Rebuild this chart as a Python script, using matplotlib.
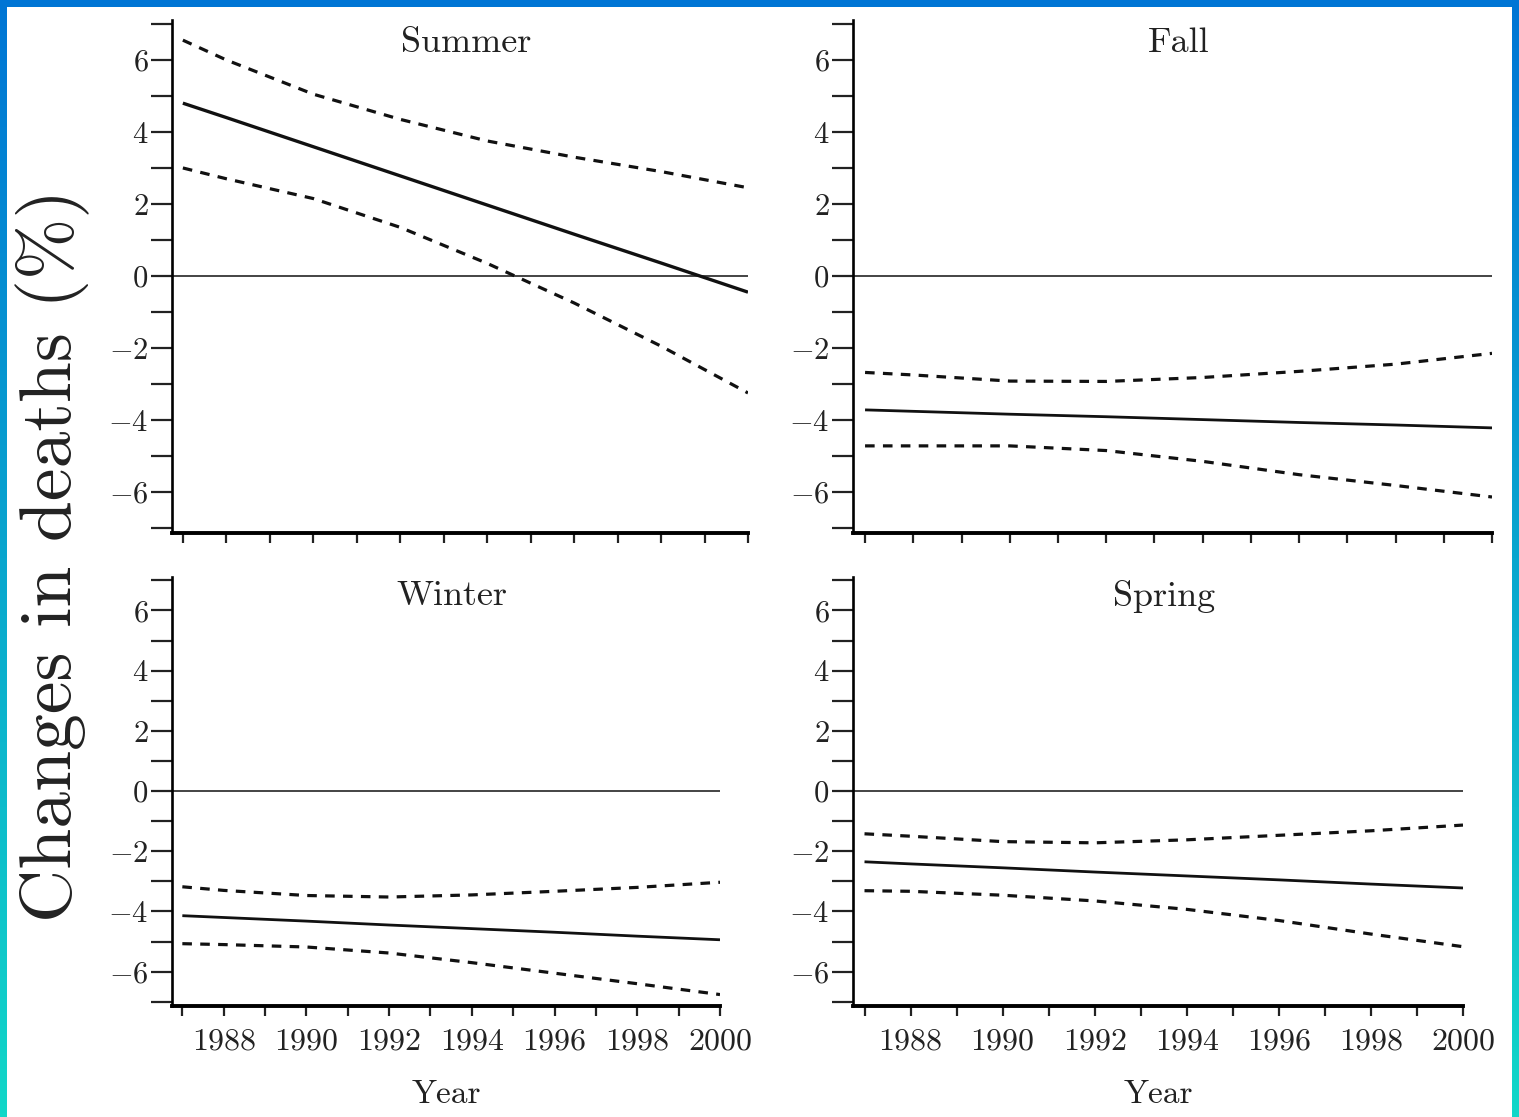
import numpy as np
import matplotlib
matplotlib.use('Agg')
import matplotlib.pyplot as plt
from matplotlib.patches import Rectangle

plt.rcParams['mathtext.fontset'] = 'cm'
plt.rcParams['font.family'] = 'serif'
plt.rcParams['font.serif'] = ['cmr10', 'DejaVu Serif']
plt.rcParams['axes.unicode_minus'] = False

# data
years = [1987, 1988, 1990, 1992, 1994, 1996, 1998, 2000]

summer_est = [4.80, 4.40, 3.59, 2.78, 1.97, 1.16, 0.36, -0.45]
summer_hi = [6.55, 6.00, 5.05, 4.35, 3.75, 3.30, 2.90, 2.45]
summer_lo = [3.00, 2.70, 2.15, 1.35, 0.35, -0.75, -1.95, -3.25]

fall_est = [-3.72, -3.76, -3.84, -3.91, -3.99, -4.07, -4.14, -4.22]
fall_hi = [-2.68, -2.75, -2.92, -2.93, -2.82, -2.65, -2.45, -2.15]
fall_lo = [-4.72, -4.72, -4.72, -4.85, -5.15, -5.52, -5.82, -6.14]

winter_est = [-4.14, -4.20, -4.32, -4.45, -4.57, -4.69, -4.82, -4.94]
winter_hi = [-3.18, -3.30, -3.47, -3.52, -3.45, -3.33, -3.20, -3.03]
winter_lo = [-5.07, -5.10, -5.18, -5.38, -5.70, -6.05, -6.40, -6.76]

spring_est = [-2.35, -2.42, -2.55, -2.69, -2.82, -2.95, -3.09, -3.22]
spring_hi = [-1.42, -1.50, -1.68, -1.72, -1.62, -1.47, -1.32, -1.13]
spring_lo = [-3.31, -3.33, -3.46, -3.65, -3.93, -4.30, -4.75, -5.17]

seasons = ['Summer', 'Fall', 'Winter', 'Spring']
estimates = [summer_est, fall_est, winter_est, spring_est]
uppers = [summer_hi, fall_hi, winter_hi, spring_hi]
lowers = [summer_lo, fall_lo, winter_lo, spring_lo]

ytick_vals = list(range(-7, 8))
xtick_vals = list(range(1987, 2001))

W, H = 1519, 1117
fig = plt.figure(figsize=(W / 100, H / 100), dpi=100)

# gradient frame round the picture
bg = fig.add_axes([0, 0, 1, 1], zorder=-10)
top_col = np.array([0, 117, 213]) / 255
bot_col = np.array([18, 215, 200]) / 255
t = np.linspace(0, 1, 256)[:, None]
grad = top_col[None, :] * (1 - t) + bot_col[None, :] * t
bg.imshow(grad[:, None, :], aspect='auto', extent=[0, 1, 0, 1])
bg.add_patch(Rectangle((7 / W, 0), (W - 14) / W, (H - 7) / H,
                       facecolor='white', edgecolor='none'))
bg.set_xlim(0, 1)
bg.set_ylim(0, 1)
bg.axis('off')


def box(x0, x1, y0, y1):
    return [x0 / W, 1 - y1 / H, (x1 - x0) / W, (y1 - y0) / H]


boxes = [box(172, 748, 20, 533), box(853, 1492, 20, 533),
         box(172, 720, 577, 1006), box(853, 1463, 577, 1006)]

for i, season in enumerate(seasons):
    ax = fig.add_axes(boxes[i])
    ax.set_facecolor('none')
    lw = 2.4 if i == 0 else 2.0
    ax.plot(years, estimates[i], color='#111111', lw=lw, solid_capstyle='butt')
    for band in (uppers[i], lowers[i]):
        ax.plot(years, band, color='#111111', lw=2.3, dashes=(3.0, 2.6))
    ax.axhline(0, color='#111111', lw=1.1)

    ax.set_xlim(1986.75, 2000)
    ax.set_ylim(-7.14, 7.11)
    for s in ('top', 'right'):
        ax.spines[s].set_visible(False)
    ax.spines['left'].set_linewidth(1.9)
    ax.spines['bottom'].set_linewidth(2.8)

    ax.set_yticks(ytick_vals)
    ax.set_yticklabels([(r'$%d$' % v) if v % 2 == 0 else '' for v in ytick_vals])
    ax.set_xticks(xtick_vals)
    if i >= 2:
        ax.set_xticklabels([str(v) if v % 2 == 0 else '' for v in xtick_vals])
    else:
        ax.set_xticklabels([])
    ax.tick_params(axis='y', direction='out', length=15, width=1.6,
                   labelsize=22, pad=2, colors='#222222')
    ax.tick_params(axis='x', direction='out', length=7, width=1.6,
                   labelsize=23, pad=9, colors='#222222')

    ax.text(0.51, 0.955, season, transform=ax.transAxes, ha='center',
            va='center', fontsize=26, color='#222222')
    if i >= 2:
        ax.text(0.5, -0.207, 'Year', transform=ax.transAxes, ha='center',
                va='center', fontsize=24, color='#222222')

fig.text(0.035, 0.503, 'Changes in deaths (%)', rotation=90, ha='center',
         va='center', fontsize=53, color='#222222')

fig.savefig('out.png', dpi=100)
